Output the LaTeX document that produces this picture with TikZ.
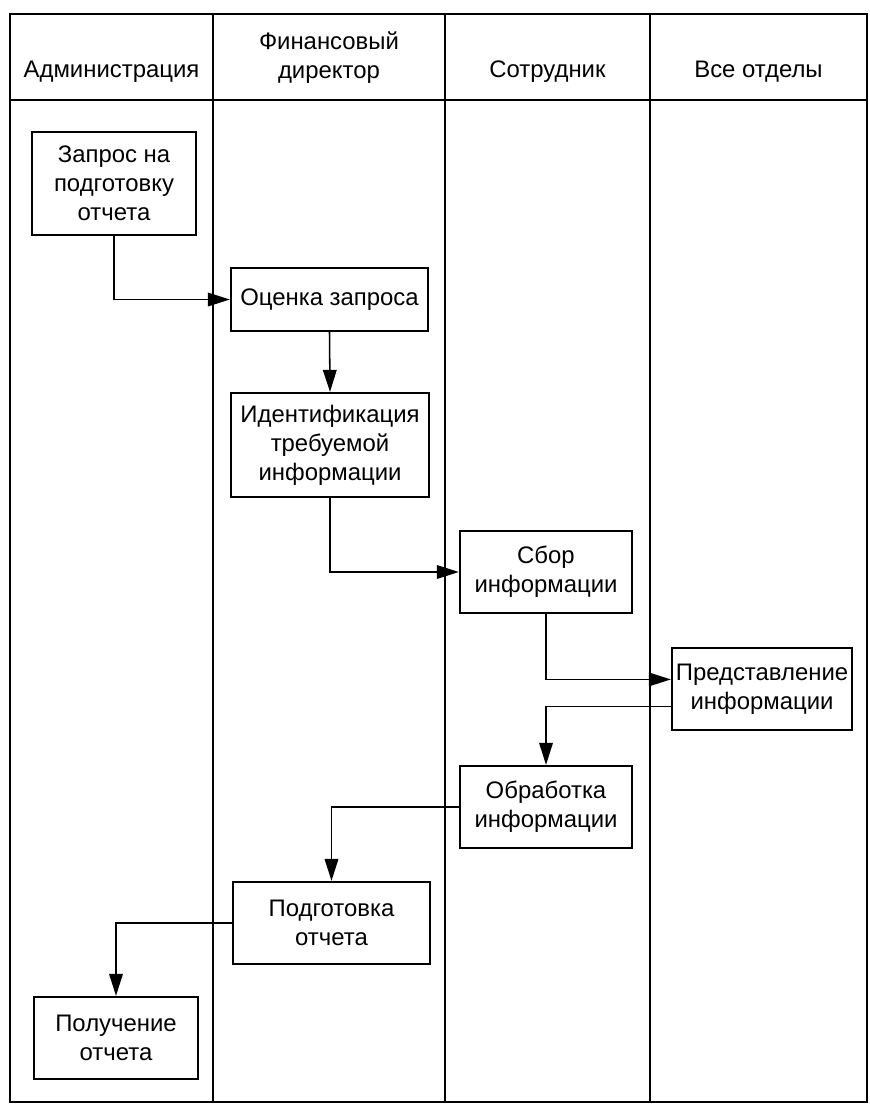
\documentclass[tikz,border=0pt]{standalone}
\usepackage{fontspec}
\setmainfont{Liberation Sans}
\usetikzlibrary{arrows.meta}

\begin{document}
\begin{tikzpicture}[
    x=0.025cm, y=-0.025cm,
    lane/.style={font=\fontsize{17}{20.6}\selectfont, align=center, inner sep=0pt},
    proc/.style={draw, line width=1.6pt, font=\fontsize{17}{20.6}\selectfont,
                 align=center, inner sep=2pt},
    flow/.style={-{Triangle[length=5.5mm, width=3.4mm]}, line width=1.1pt},
    frame/.style={line width=2pt},
  ]
  \useasboundingbox (0,0) rectangle (869,1104);

  % Swimlane frame
  \draw[frame] (10,14) rectangle (867,1102);
  \draw[frame] (10,100) -- (867,100);
  \foreach \x in {213, 445, 650}
    \draw[line width=1.4pt] (\x,14) -- (\x,1102);

  % Lane headers
  \foreach \i/\x/\name in {1/111.5/Администрация, 3/547.5/Сотрудник,
                           4/758.5/Все отделы}
    \node[lane, anchor=base] (h\i) at (\x, 78) {\name};
  \node[lane] (h2) at (329, 58) {Финансовый\\директор};

  % Steps
  \node[proc, minimum width=4.1cm, minimum height=2.575cm] (zapros)
    at (114, 183.5) {Запрос на\\подготовку\\отчета};
  \node[proc, minimum width=4.925cm, minimum height=1.575cm] (ocenka)
    at (329.5, 299.5) {Оценка запроса};
  \node[proc, minimum width=4.95cm, minimum height=2.6cm] (ident)
    at (330, 445) {Идентификация\\требуемой\\информации};
  \node[proc, minimum width=4.3cm, minimum height=2.05cm] (sbor)
    at (546, 572) {Сбор\\информации};
  \node[proc, minimum width=4.5cm, minimum height=2.05cm] (predst)
    at (762, 689) {Представление\\информации};
  \node[proc, minimum width=4.3cm, minimum height=2.05cm] (obrab)
    at (546, 807) {Обработка\\информации};
  \node[proc, minimum width=4.925cm, minimum height=2.05cm] (podg)
    at (331.5, 923) {Подготовка\\отчета};
  \node[proc, minimum width=4.1cm, minimum height=2.05cm] (poluch)
    at (116, 1038) {Получение\\отчета};

  % Flow
  \draw[flow] (zapros.south) |- (ocenka.west);
  \draw[flow] (ocenka.south) -- (ident.north);
  \draw[flow] (ident.south) |- (sbor.west);
  \draw[flow] (sbor.south) |- (predst.174);
  \draw[flow] (predst.191) -| (obrab.north);
  \draw[flow] (obrab.west) -| (podg.north);
  \draw[flow] (podg.west) -| (poluch.north);
\end{tikzpicture}
\end{document}
